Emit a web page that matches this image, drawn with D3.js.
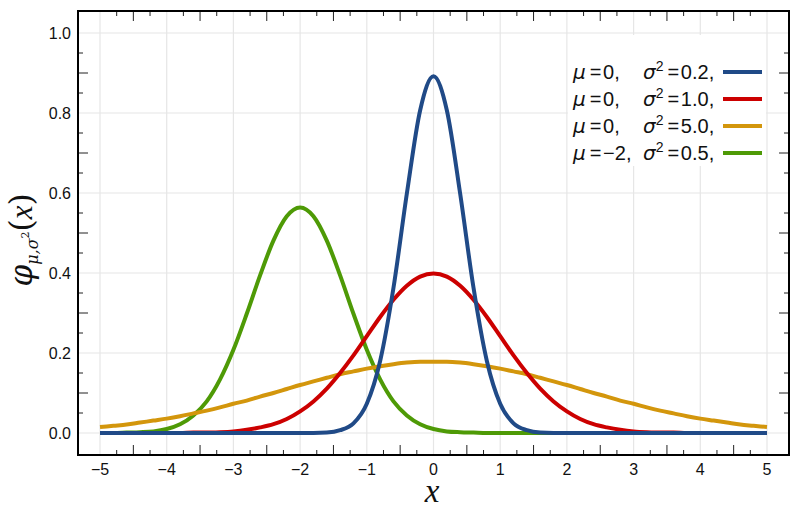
<!DOCTYPE html>
<html><head><meta charset="utf-8">
<script src="https://cdn.jsdelivr.net/npm/d3@7"></script>
<style>html,body{margin:0;padding:0;background:#fff;} svg{display:block;}</style>
</head><body><svg id="c" width="800" height="511"></svg>
<script>
// ---- data ----
const xs = [-5.0,-4.8,-4.6,-4.4,-4.2,-4.0,-3.8,-3.6,-3.4,-3.2,-3.0,-2.8,-2.6,-2.4,-2.2,-2.0,-1.8,-1.6,-1.4,-1.2,-1.0,-0.8,-0.6,-0.4,-0.2,0,0.2,0.4,0.6,0.8,1.0,1.2,1.4,1.6,1.8,2.0,2.2,2.4,2.6,2.8,3.0,3.2,3.4,3.6,3.8,4.0,4.2,4.4,4.6,4.8,5.0];
const blueVals = [0,0,0,0,0,0,0,0,0,0,0,0,0,0,0,0, 0,0.001,0.007,0.024,0.073,0.180,0.363,0.598,0.807, 0.892, 0.807,0.598,0.363,0.180,0.073,0.024,0.007,0.001,0, 0,0,0,0,0,0,0,0,0,0,0,0,0,0,0,0];
const redVals = [0,0,0,0,0,0,0, 0.001,0.001,0.002,0.004,0.008,0.014,0.022,0.035,0.054,0.079,0.111,0.150,0.194,0.242,0.290,0.333,0.368,0.391, 0.399, 0.391,0.368,0.333,0.290,0.242,0.194,0.150,0.111,0.079,0.054,0.035,0.022,0.014,0.008,0.004,0.002,0.001,0.001, 0,0,0,0,0,0,0];
const goldVals = [0.015,0.018,0.021,0.026,0.031,0.036,0.042,0.049,0.056,0.064,0.073,0.081,0.091,0.100,0.110,0.120,0.129,0.138,0.147,0.154,0.161,0.167,0.172,0.176,0.178, 0.178, 0.178,0.176,0.172,0.167,0.161,0.154,0.147,0.138,0.129,0.120,0.110,0.100,0.091,0.081,0.073,0.064,0.056,0.049,0.042,0.036,0.031,0.026,0.021,0.018,0.015];
const greenVals = [0,0,0.001,0.002,0.004,0.010,0.022,0.044,0.079,0.134,0.208,0.298,0.394,0.481,0.542,0.564, 0.542,0.481,0.394,0.298,0.208,0.134,0.079,0.044,0.022,0.010, 0.004,0.002,0.001, 0,0,0,0,0,0,0,0,0,0,0,0,0,0,0,0,0,0,0,0,0,0,0];

const legendMu = ["0,", "0,", "0,", "\u22122,"];
const legendVar = ["0.2,", "1.0,", "5.0,", "0.5,"];
const seriesColors = ["#204a87", "#cc0000", "#d3960c", "#4e9a06"];

const xTickValues = [-5,-4,-3,-2,-1,0,1,2,3,4,5];
const xTickLabels = ["\u22125","\u22124","\u22123","\u22122","\u22121","0","1","2","3","4","5"];
const yTickValues = [0,0.2,0.4,0.6,0.8,1.0];
const yTickLabels = ["0.0","0.2","0.4","0.6","0.8","1.0"];

// ---- layout ----
const svg = d3.select("#c");
const L = 78, T = 11, R = 789, B = 455;
const x = d3.scaleLinear().domain([-5.33, 5.33]).range([L, R]);
const y = d3.scaleLinear().domain([-0.055, 1.055]).range([B, T]);

// grid
const grid = svg.append("g").attr("stroke", "#e6e6e6").attr("stroke-width", 1.2);
grid.selectAll("line.gx").data(xTickValues).join("line")
  .attr("x1", d => x(d)).attr("x2", d => x(d)).attr("y1", T).attr("y2", B);
grid.selectAll("line.gy").data(yTickValues).join("line")
  .attr("x1", L).attr("x2", R).attr("y1", d => y(d)).attr("y2", d => y(d));

// legend background
svg.append("rect").attr("x", x(2) + 1).attr("y", 35).attr("width", x(5) - x(2) - 2).attr("height", 131).attr("fill", "#fff");

// minor/major ticks (inward, all four sides)
const xMinor = d3.range(-19, 20).filter(k => k % 4 !== 0).map(k => ({v: k * 0.25, len: (k % 2 === 0) ? 10 : 5}));
const yMinor = d3.range(1, 20).filter(k => k % 4 !== 0).map(k => ({v: k * 0.05, len: (k % 2 === 0) ? 10 : 5}));
const tk = svg.append("g").attr("stroke", "#222").attr("stroke-width", 1);
tk.selectAll("line.b").data(xMinor).join("line").attr("x1", d => x(d.v)).attr("x2", d => x(d.v)).attr("y1", B).attr("y2", d => B - d.len);
tk.selectAll("line.t").data(xMinor).join("line").attr("x1", d => x(d.v)).attr("x2", d => x(d.v)).attr("y1", T).attr("y2", d => T + d.len);
tk.selectAll("line.l").data(yMinor).join("line").attr("y1", d => y(d.v)).attr("y2", d => y(d.v)).attr("x1", L).attr("x2", d => L + d.len);
tk.selectAll("line.r").data(yMinor).join("line").attr("y1", d => y(d.v)).attr("y2", d => y(d.v)).attr("x1", R).attr("x2", d => R - d.len);

// curves
const series = [greenVals, goldVals, redVals, blueVals];
const cols = [seriesColors[3], seriesColors[2], seriesColors[1], seriesColors[0]];
const line = d3.line().x((d, i) => x(xs[i])).y(d => y(d)).curve(d3.curveMonotoneX);
svg.append("g").selectAll("path").data(series).join("path")
  .attr("d", d => line(d)).attr("fill", "none")
  .attr("stroke", (d, i) => cols[i]).attr("stroke-width", 4).attr("stroke-linecap", "butt").attr("stroke-linejoin", "round");

// frame
svg.append("rect").attr("x", L).attr("y", T).attr("width", R - L).attr("height", B - T)
  .attr("fill", "none").attr("stroke", "#000").attr("stroke-width", 2);

// tick labels
const font = "'Liberation Sans', Arial, sans-serif";
svg.append("g").selectAll("text").data(xTickValues).join("text")
  .attr("x", d => x(d)).attr("y", 475).attr("text-anchor", "middle")
  .attr("font-family", font).attr("font-size", 16).attr("fill", "#111")
  .text((d, i) => xTickLabels[i]);
svg.append("g").selectAll("text").data(yTickValues).join("text")
  .attr("x", 71).attr("y", d => y(d) + 6).attr("text-anchor", "end")
  .attr("font-family", font).attr("font-size", 16).attr("fill", "#111")
  .text((d, i) => yTickLabels[i]);

// axis titles
const serif = "'DejaVu Serif', 'Liberation Serif', serif";
svg.append("text").attr("x", 432).attr("y", 502).attr("text-anchor", "middle")
  .attr("font-family", "'Liberation Serif', serif").attr("font-style", "italic").attr("font-size", 33).attr("fill", "#111").text("x");

const yl = svg.append("text").attr("transform", "translate(32,240) rotate(-90)")
  .attr("text-anchor", "middle").attr("font-family", serif).attr("fill", "#111");
yl.append("tspan").attr("font-size", 31).attr("font-style", "italic").text("\u03C6");
yl.append("tspan").attr("font-size", 16).attr("font-style", "italic").attr("dy", 6).text("\u03BC,\u03C3");
yl.append("tspan").attr("font-size", 11).attr("dy", -9).text("2");
yl.append("tspan").attr("font-size", 31).attr("dy", 3).text("(");
yl.append("tspan").attr("font-size", 31).attr("font-style", "italic").attr("font-family", "'Liberation Serif', serif").text("x");
yl.append("tspan").attr("font-size", 31).text(")");

// legend
const rows = [79, 106, 133, 160];
const lg = svg.append("g").attr("font-family", font).attr("font-size", 20).attr("fill", "#111");
rows.forEach((by, i) => {
  const t1 = lg.append("text").attr("x", 573).attr("y", by);
  t1.append("tspan").attr("font-style", "italic").attr("font-family", "'DejaVu Sans', sans-serif").text("\u03BC");
  t1.append("tspan").text("\u2009=\u200A" + legendMu[i]);
  const t2 = lg.append("text").attr("x", 643).attr("y", by);
  t2.append("tspan").attr("font-style", "italic").attr("font-family", "'DejaVu Sans', sans-serif").text("\u03C3");
  t2.append("tspan").attr("font-size", 14).attr("dy", -8).text("2");
  t2.append("tspan").attr("dy", 8).text("\u2009=\u200A" + legendVar[i]);
  lg.append("line").attr("x1", 723).attr("x2", 762).attr("y1", by - 7).attr("y2", by - 7)
    .attr("stroke", seriesColors[i]).attr("stroke-width", 4);
});
</script>
</body></html>
